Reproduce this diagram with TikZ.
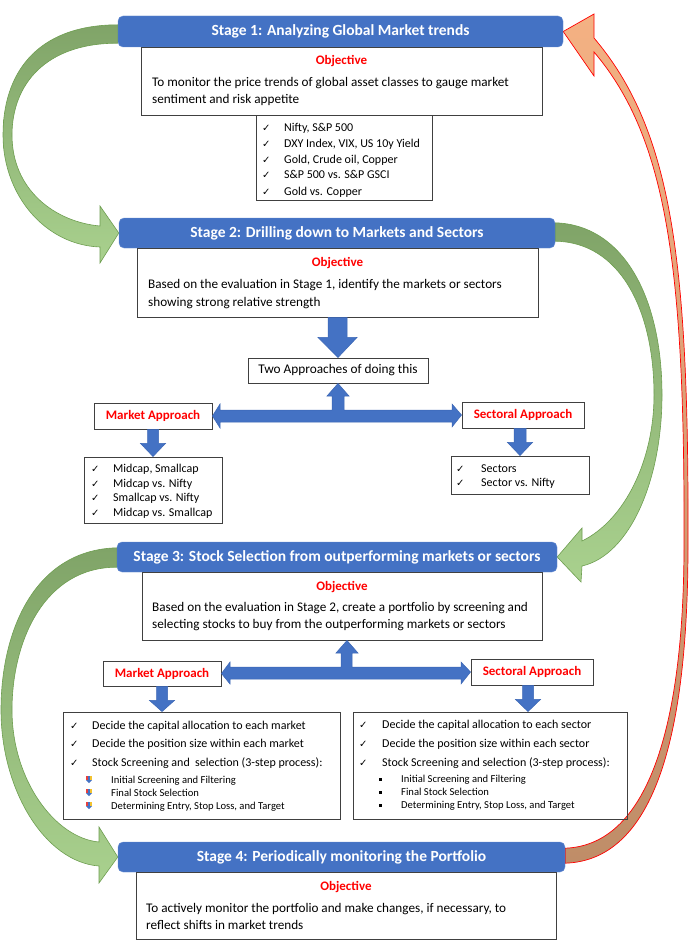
\documentclass[tikz,border=0pt]{standalone}
\usepackage{fontspec}
\setmainfont{Carlito}
\newfontfamily\symfont{DejaVu Sans}
\usetikzlibrary{calc,backgrounds}
\definecolor{hdrblue}{HTML}{4472C4}
\definecolor{hdrline}{HTML}{6A8FD3}
\definecolor{arrowline}{HTML}{3B66B5}
\definecolor{boxline}{HTML}{404040}
\definecolor{objred}{HTML}{FF0000}
\definecolor{greendark}{HTML}{80A468}
\definecolor{greenlight}{HTML}{A9D18E}
\definecolor{greenline}{HTML}{6E9E50}
\definecolor{salmon}{HTML}{F4B183}
\definecolor{salmondark}{HTML}{BF8D68}
\definecolor{bulletred}{HTML}{E8403C}
\definecolor{bulletyel}{HTML}{F2C230}
\tikzset{
    stagehdr/.style={draw=hdrline,fill=hdrblue,rounded corners=5pt,text=white,font=\fontsize{15.5}{18}\selectfont\bfseries,inner sep=0pt},
    objbox/.style={draw=boxline,line width=0.9pt,inner sep=0pt},
    objtitle/.style={text=objred,font=\fontsize{13}{15}\selectfont\bfseries,inner sep=0pt,anchor=base},
    objtext/.style={font=\fontsize{13.2}{16}\selectfont,inner sep=0pt,anchor=base west},
    listtext/.style={font=\fontsize{12}{14}\selectfont,inner sep=0pt,anchor=base west},
    subtext/.style={font=\fontsize{10.6}{12}\selectfont,inner sep=0pt,anchor=base west},
    checkmark/.style={font=\symfont\fontsize{10}{12}\selectfont,inner sep=0pt,anchor=base west},
    approach/.style={draw=boxline,line width=0.9pt,text=objred,font=\fontsize{13}{15}\selectfont\bfseries,inner sep=0pt},
    plainbox/.style={draw=boxline,line width=0.9pt,font=\fontsize{13.3}{15}\selectfont,inner sep=0pt},
    blockarrow/.style={fill=hdrblue,draw=arrowline,line width=0.5pt},
    greencurve/.style={draw=greenline,line width=0.6pt,top color=greendark,bottom color=greenlight},
    redcurve/.style={draw=objred,line width=0.7pt,top color=salmon,bottom color=salmondark},
    arrowbullet/.pic={
        \fill[bulletred] (-3,-3.5) rectangle (0,0);
        \fill[bulletyel] (0,-3.5) rectangle (3,0);
        \fill[hdrblue] (-1.2,-3.5) rectangle (1.2,0.5);
        \fill[hdrblue] (-3,0.5) -- (3,0.5) -- (0,3.5) -- cycle;
    }
}
\begin{document}
\begin{tikzpicture}[x=1pt,y=-1pt]
        \useasboundingbox (0,0) rectangle (692,942);

        % Stage headers
        \node[stagehdr,minimum width=445,minimum height=31] (hdr1) at (340.5,31.5) {Stage 1: Analyzing Global Market trends};
        \node[stagehdr,minimum width=436,minimum height=30] (hdr2) at (337,233) {Stage 2: Drilling down to Markets and Sectors};
        \node[stagehdr,minimum width=440,minimum height=30] (hdr3) at (337,557) {Stage 3: Stock Selection from outperforming markets or sectors};
        \node[stagehdr,minimum width=447,minimum height=30] (hdr4) at (341.5,857) {Stage 4: Periodically monitoring the Portfolio};

        % Curved arrows between stages
        \begin{pgfonlayer}{background}
        \fill[white] (0,0) rectangle (692,942);
        \draw[greencurve] ($(hdr1.north west)+(0,9)$) .. controls (35,25) and (3,75) .. (3,135)
            .. controls (3,195) and (45,245) .. (100,247) -- (100,263) -- (hdr2.west) -- (100,206) -- (100,226)
            .. controls (55,222) and (12,190) .. (12,135) .. controls (12,85) and (45,43) .. ($(hdr1.south west)+(0,-4)$) -- cycle;
        \draw[greencurve] ($(hdr2.north east)+(0,5)$) .. controls (625,225) and (662,300) .. (662,395)
            .. controls (662,480) and (630,555) .. (582,566) -- (581,582) -- (hdr3.east) -- (582,528) -- (582,541)
            .. controls (625,520) and (654,460) .. (654,395) .. controls (654,310) and (620,242) .. ($(hdr2.south east)+(0,-7)$) -- cycle;
        \draw[greencurve] ($(hdr3.north west)+(0,6)$) .. controls (35,550) and (1,630) .. (1,710)
            .. controls (1,790) and (45,862) .. (99,866) -- (99,883) -- (hdr4.west) -- (99,827) -- (99,842)
            .. controls (55,838) and (12,780) .. (12,710) .. controls (12,640) and (45,567) .. ($(hdr3.south west)+(0,-5)$) -- cycle;
        \draw[redcurve] ($(hdr4.south east)+(0,-9)$) .. controls (660,860) and (688,720) .. (688,545)
            .. controls (689,260) and (672,130) .. (594,38) -- (594,14) -- (hdr1.east) -- (594,76) -- (594,52)
            .. controls (667,138) and (685,268) .. (684,545) .. controls (684,715) and (652,845) .. ($(hdr4.south east)+(0,-24)$) -- cycle;
        \end{pgfonlayer}

        % Stage 1
        \node[objbox,minimum width=401,minimum height=68] (obj1box) at (341.5,81) {};
        \node[objtitle] (obj1title) at (341.5,65) {Objective};
        \node[objtext] (obj1a) at (152,86) {To monitor the price trends of global asset classes to gauge market};
        \node[objtext] (obj1b) at (152,103) {sentiment and risk appetite};
        \node[objbox,minimum width=176,minimum height=85] (list1box) at (344,157.5) {};
        \node[checkmark] (c1a) at (262,131.5) {✓};
        \node[listtext] (l1a) at (284,131.5) {Nifty, S\&P 500};
        \node[checkmark] (c1b) at (262,147.5) {✓};
        \node[listtext] (l1b) at (284,147.5) {DXY Index, VIX, US 10y Yield};
        \node[checkmark] (c1c) at (262,163.5) {✓};
        \node[listtext] (l1c) at (284,163.5) {Gold, Crude oil, Copper};
        \node[checkmark] (c1d) at (262,178.5) {✓};
        \node[listtext] (l1d) at (284,178.5) {S\&P 500 vs. S\&P GSCI};
        \node[checkmark] (c1e) at (262,195) {✓};
        \node[listtext] (l1e) at (284,195) {Gold vs. Copper};

        % Stage 2
        \node[objbox,minimum width=401,minimum height=69] (obj2box) at (337.5,282.5) {};
        \node[objtitle] (obj2title) at (337.5,266) {Objective};
        \node[objtext] (obj2a) at (148,288) {Based on the evaluation in Stage 1, identify the markets or sectors};
        \node[objtext] (obj2b) at (148,306) {showing strong relative strength};
        \node[plainbox,minimum width=180,minimum height=25] (two) at (338,370.5) {Two Approaches of doing this};
        \node[approach,minimum width=118,minimum height=26] (mkt2) at (153,416) {Market Approach};
        \node[approach,minimum width=122,minimum height=26] (sec2) at (523,415) {Sectoral Approach};
        \node[objbox,minimum width=138,minimum height=66] (mlist2box) at (153,490) {};
        \node[checkmark] (c2a) at (91,472.5) {✓};
        \node[listtext] (l2a) at (113,472.5) {Midcap, Smallcap};
        \node[checkmark] (c2b) at (91,487.5) {✓};
        \node[listtext] (l2b) at (113,487.5) {Midcap vs. Nifty};
        \node[checkmark] (c2c) at (91,501.5) {✓};
        \node[listtext] (l2c) at (113,501.5) {Smallcap vs. Nifty};
        \node[checkmark] (c2d) at (91,516.5) {✓};
        \node[listtext] (l2d) at (113,516.5) {Midcap vs. Smallcap};
        \node[objbox,minimum width=138,minimum height=38] (slist2box) at (520,475) {};
        \node[checkmark] (c2e) at (456,472.5) {✓};
        \node[listtext] (l2e) at (481,472.5) {Sectors};
        \node[checkmark] (c2f) at (456,486.5) {✓};
        \node[listtext] (l2f) at (481,486.5) {Sector vs. Nifty};

        \draw[blockarrow] ($(obj2box.south)+(-9.5,0)$) -- ($(obj2box.south)+(-9.5,20)$) -- ($(obj2box.south)+(-19.5,20)$)
            -- (two.north) -- ($(obj2box.south)+(19.5,20)$) -- ($(obj2box.south)+(9.5,20)$) -- ($(obj2box.south)+(9.5,0)$) -- cycle;
        \draw[blockarrow] (mkt2.east) -- (220,404) -- (220,410) -- (332,410) -- (332,396) -- (327,396) -- (two.south)
            -- (349,396) -- (344,396) -- (344,410) -- (452,410) -- (452,404) -- (sec2.west) -- (452,427) -- (452,422)
            -- (220,422) -- (220,428) -- cycle;
        \draw[blockarrow] ($(mkt2.south)+(-5.5,0)$) -- ($(mkt2.south)+(-5.5,14)$) -- ($(mkt2.south)+(-12.5,14)$)
            -- (mlist2box.north) -- ($(mkt2.south)+(12.5,14)$) -- ($(mkt2.south)+(5.5,14)$) -- ($(mkt2.south)+(5.5,0)$) -- cycle;
        \draw[blockarrow] ($(sec2.south -| slist2box.north)+(-6,0)$) -- ($(sec2.south -| slist2box.north)+(-6,14)$) -- ($(sec2.south -| slist2box.north)+(-12.5,14)$)
            -- (slist2box.north) -- ($(sec2.south -| slist2box.north)+(12.5,14)$) -- ($(sec2.south -| slist2box.north)+(6,14)$) -- ($(sec2.south -| slist2box.north)+(6,0)$) -- cycle;

        % Stage 3
        \node[objbox,minimum width=400,minimum height=68] (obj3box) at (342,606) {};
        \node[objtitle] (obj3title) at (342,590) {Objective};
        \node[objtext] (obj3a) at (152,611) {Based on the evaluation in Stage 2, create a portfolio by screening and};
        \node[objtext] (obj3b) at (152,628) {selecting stocks to buy from the outperforming markets or sectors};
        \node[approach,minimum width=118,minimum height=25] (mkt3) at (162,673.5) {Market Approach};
        \node[approach,minimum width=122,minimum height=26] (sec3) at (532,672) {Sectoral Approach};
        \node[objbox,minimum width=277,minimum height=107] (mdet3box) at (201.5,765.5) {};
        \node[checkmark] (c3a) at (70,729) {✓};
        \node[listtext] (l3a) at (92,729) {Decide the capital allocation to each market};
        \node[checkmark] (c3b) at (70,747) {✓};
        \node[listtext] (l3b) at (92,747) {Decide the position size within each market};
        \node[checkmark] (c3c) at (70,766) {✓};
        \node[listtext] (l3c) at (92,766) {Stock Screening and~ selection (3-step process):};
        \pic at (89,779.5) {arrowbullet};
        \node[subtext] (s3a) at (111,783.5) {Initial Screening and Filtering};
        \pic at (89,792.5) {arrowbullet};
        \node[subtext] (s3b) at (111,796.5) {Final Stock Selection};
        \pic at (89,805.5) {arrowbullet};
        \node[subtext] (s3c) at (111,809.5) {Determining Entry, Stop Loss, and Target};
        \node[objbox,minimum width=274,minimum height=107] (sdet3box) at (490,765.5) {};
        \node[checkmark] (c3d) at (359,728) {✓};
        \node[listtext] (l3d) at (382,728) {Decide the capital allocation to each sector};
        \node[checkmark] (c3e) at (359,747) {✓};
        \node[listtext] (l3e) at (382,747) {Decide the position size within each sector};
        \node[checkmark] (c3f) at (359,766) {✓};
        \node[listtext] (l3f) at (382,766) {Stock Screening and selection (3-step process):};
        \fill (378.5,777.5) rectangle (381.5,780.5);
        \node[subtext] (s3d) at (401,782.5) {Initial Screening and Filtering};
        \fill (378.5,790.5) rectangle (381.5,793.5);
        \node[subtext] (s3e) at (401,795.5) {Final Stock Selection};
        \fill (378.5,803.5) rectangle (381.5,806.5);
        \node[subtext] (s3f) at (401,808.5) {Determining Entry, Stop Loss, and Target};

        \draw[blockarrow] (mkt3.east) -- (230,662) -- (230,667) -- (341,667) -- (341,653) -- (336,653) -- ([xshift=5pt]obj3box.south)
            -- (358,653) -- (352,653) -- (352,667) -- (461,667) -- (461,662) -- (sec3.west) -- (461,684) -- (461,679)
            -- (230,679) -- (230,684) -- cycle;
        \draw[blockarrow] ($(mkt3.south)+(-5.5,0)$) -- ($(mkt3.south)+(-5.5,14)$) -- ($(mkt3.south)+(-12.5,14)$)
            -- (mkt3.south |- mdet3box.north) -- ($(mkt3.south)+(12.5,14)$) -- ($(mkt3.south)+(5.5,14)$) -- ($(mkt3.south)+(5.5,0)$) -- cycle;
        \draw[blockarrow] ($(sec3.south)+(-9.5,0)$) -- ($(sec3.south)+(-9.5,14)$) -- ($(sec3.south)+(-16.5,14)$)
            -- ([xshift=-4pt]sec3.south |- sdet3box.north) -- ($(sec3.south)+(8.5,14)$) -- ($(sec3.south)+(1.5,14)$) -- ($(sec3.south)+(1.5,0)$) -- cycle;

        % Stage 4
        \node[objbox,minimum width=420,minimum height=67] (obj4box) at (346,905.5) {};
        \node[objtitle] (obj4title) at (346,890) {Objective};
        \node[objtext] (obj4a) at (146,912) {To actively monitor the portfolio and make changes, if necessary, to};
        \node[objtext] (obj4b) at (146,929) {reflect shifts in market trends};
    \end{tikzpicture}
\end{document}
